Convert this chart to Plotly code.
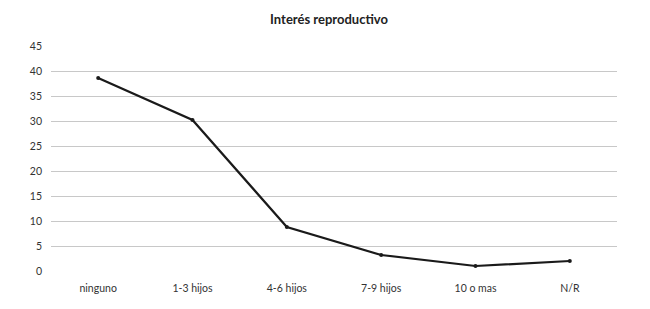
import plotly.graph_objects as go

categories = ["ninguno", "1-3 hijos", "4-6 hijos", "7-9 hijos", "10 o mas", "N/R"]
values = [38.6, 30.2, 8.8, 3.2, 1.0, 2.0]
y_ticks = [0, 5, 10, 15, 20, 25, 30, 35, 40, 45]

fig = go.Figure()
fig.add_trace(go.Scatter(
    x=categories, y=values, mode="lines+markers",
    line=dict(color="#1a1a1a", width=2.2),
    marker=dict(color="#1a1a1a", size=4),
    showlegend=False,
))

fig.update_layout(
    width=642, height=301,
    margin=dict(l=43, r=33, t=38, b=38),
    paper_bgcolor="white", plot_bgcolor="white",
    font=dict(family="Lato, Open Sans, sans-serif", color="#404040", size=10.5),
    title=dict(text="<b>Interés reproductivo</b>", x=0.5, xanchor="center",
               y=0.963, yanchor="middle",
               font=dict(size=13, color="#222222", family="Lato, sans-serif")),
)
fig.update_xaxes(
    type="category", showgrid=False, showline=False, zeroline=False,
    ticks="", range=[-0.5, 5.5], tickfont=dict(size=10.5, color="#333333"),
    ticklabelstandoff=9, automargin=False,
)
fig.update_yaxes(
    range=[0, 45], tickvals=y_ticks, showgrid=True, gridcolor="#c8c8c8",
    gridwidth=1, zeroline=False, showline=False, ticks="",
    tickfont=dict(size=10.5, color="#333333"), ticklabelstandoff=8,
    automargin=False,
)
fig.write_html("out.html")
